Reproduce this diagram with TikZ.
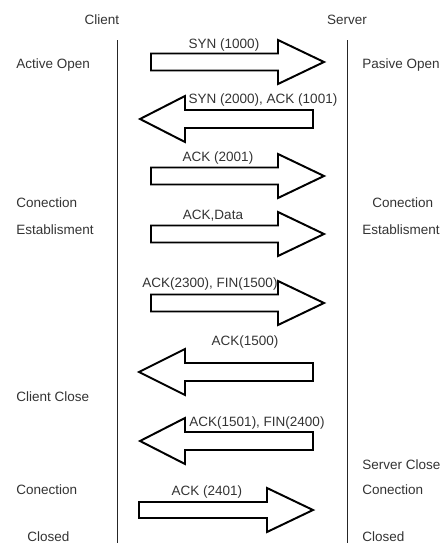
\documentclass[tikz,border=0pt]{standalone}
\usepackage{fontspec}
\setmainfont{Liberation Sans}
\usepackage{tikz}

\tikzset{
    blockarrow/.style={draw=black, fill=white, line width=1.4pt, line join=miter},
    msg/.style={text=black!80, inner sep=0pt},
    side/.style={text=black!80, inner sep=0pt, anchor=west},
    lifeline/.style={draw=black!85, line width=0.7pt}
}

\begin{document}
\begin{tikzpicture}[x=0.025cm, y=-0.025cm, font=\fontsize{9.6}{11}\selectfont]
    \useasboundingbox (0, 0) rectangle (440, 546);

    % heads of the two columns
    \node[msg] (client) at (102, 20) {Client};
    \node[msg] (server) at (347, 20) {Server};
    \coordinate (cTop) at (117, 40);
    \coordinate (cBot) at (117, 543);
    \coordinate (sTop) at (347, 40);
    \coordinate (sBot) at (347, 543);
    \draw[lifeline] (cTop) -- (cBot);
    \draw[lifeline] (sTop) -- (sBot);

    % block arrows
    \draw[blockarrow] (151, 53.5) -- (278, 53.5) -- (278, 40) -- (324, 62)
        -- (278, 84) -- (278, 70.5) -- (151, 70.5) -- cycle;
    \draw[blockarrow] (313, 110) -- (185, 110) -- (185, 96) -- (140, 119)
        -- (185, 142) -- (185, 128) -- (313, 128) -- cycle;
    \draw[blockarrow] (151, 167.5) -- (278, 167.5) -- (278, 154) -- (324, 176)
        -- (278, 198) -- (278, 184.5) -- (151, 184.5) -- cycle;
    \draw[blockarrow] (151, 225.5) -- (278, 225.5) -- (278, 212) -- (324, 234)
        -- (278, 256) -- (278, 242.5) -- (151, 242.5) -- cycle;
    \draw[blockarrow] (151, 294.5) -- (278, 294.5) -- (278, 281) -- (324, 303)
        -- (278, 325) -- (278, 311.5) -- (151, 311.5) -- cycle;
    \draw[blockarrow] (313, 363) -- (185, 363) -- (185, 349) -- (139, 372)
        -- (185, 395) -- (185, 381) -- (313, 381) -- cycle;
    \draw[blockarrow] (313, 432) -- (185, 432) -- (185, 418) -- (140, 441)
        -- (185, 464) -- (185, 450) -- (313, 450) -- cycle;
    \draw[blockarrow] (139, 502) -- (267, 502) -- (267, 488) -- (313, 510)
        -- (267, 532) -- (267, 518) -- (139, 518) -- cycle;

    % messages
    \node[msg] (syn) at (224, 45) {SYN (1000)};
    \node[msg] (synack) at (263, 100) {SYN (2000), ACK (1001)};
    \node[msg] (ack) at (218, 158) {ACK (2001)};
    \node[msg] (data) at (213, 216) {ACK,Data};
    \node[msg] (fin) at (210, 284) {ACK(2300), FIN(1500)};
    \node[msg] (finack) at (245, 342) {ACK(1500)};
    \node[msg] (sfin) at (257, 423) {ACK(1501), FIN(2400)};
    \node[msg] (lastack) at (207, 492) {ACK (2401)};

    % client states
    \node[side] (cOpen) at (16, 65) {Active Open};
    \node[side] (cConA) at (16, 203) {Conection};
    \node[side] (cEst) at (16, 230) {Establisment};
    \node[side] (cClose) at (16, 397) {Client Close};
    \node[side] (cConB) at (16, 490) {Conection};
    \node[side] (cClosed) at (27, 537) {Closed};

    % server states
    \node[side] (sOpen) at (362, 65) {Pasive Open};
    \node[side] (sConA) at (372, 203) {Conection};
    \node[side] (sEst) at (362, 230) {Establisment};
    \node[side] (sClose) at (362, 465) {Server Close};
    \node[side] (sConB) at (362, 490) {Conection};
    \node[side] (sClosed) at (362, 537) {Closed};
\end{tikzpicture}
\end{document}
